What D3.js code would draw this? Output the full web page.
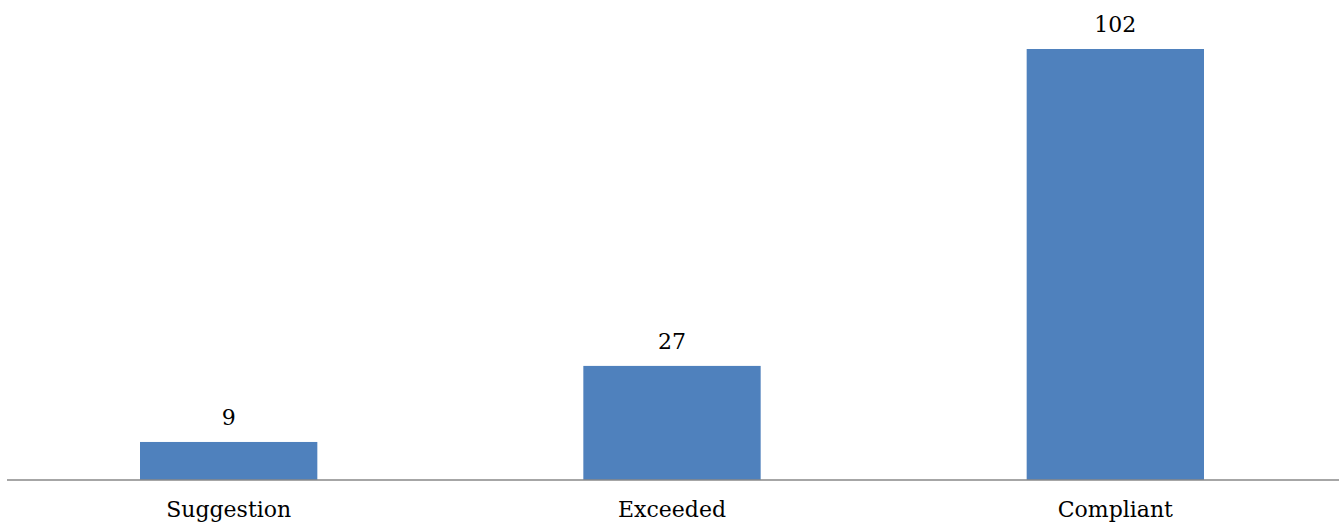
<!DOCTYPE html>
<html>
<head>
<meta charset="utf-8">
<script src="https://cdn.jsdelivr.net/npm/d3@7"></script>
<style>
  body { margin: 0; background: #fff; }
  .label { font-family: "DejaVu Serif", serif; font-size: 22px; fill: #000; }
</style>
</head>
<body>
<div id="chartContainer"></div>
<script>
const categories = ["Suggestion", "Exceeded", "Compliant"];
const counts = [9, 27, 102];

function createChart() {
  const svg = d3.select("#chartContainer").append("svg").attr("width", 1339).attr("height", 528);

  const baseline = 480;

  const x = d3.scaleBand().domain(categories).range([7, 1337]).paddingInner(0.6).paddingOuter(0.3);
  const y = d3.scaleLinear().domain([0, 102]).range([baseline, 49]);

  // bars
  svg.selectAll(".bar")
    .data(counts)
    .enter()
    .append("rect")
    .attr("class", "bar")
    .attr("x", (d, i) => x(categories[i]))
    .attr("y", (d) => y(d))
    .attr("width", x.bandwidth())
    .attr("height", (d) => baseline - y(d))
    .attr("fill", "#4f81bd");

  // value labels
  svg.selectAll(".value")
    .data(counts)
    .enter()
    .append("text")
    .attr("class", "label")
    .attr("x", (d, i) => x(categories[i]) + x.bandwidth() / 2)
    .attr("y", (d) => y(d) - 17)
    .attr("text-anchor", "middle")
    .text((d) => d);

  // category axis
  const axis = svg.append("g").attr("transform", `translate(0,${baseline})`)
    .call(d3.axisBottom(x).tickSize(0).tickPadding(21));
  axis.select(".domain").attr("d", "M7,0H1339").attr("stroke", "#898989").attr("stroke-width", 1.5);
  axis.selectAll("text").attr("class", "label").attr("fill", "#000");
}

createChart();
</script>
</body>
</html>
